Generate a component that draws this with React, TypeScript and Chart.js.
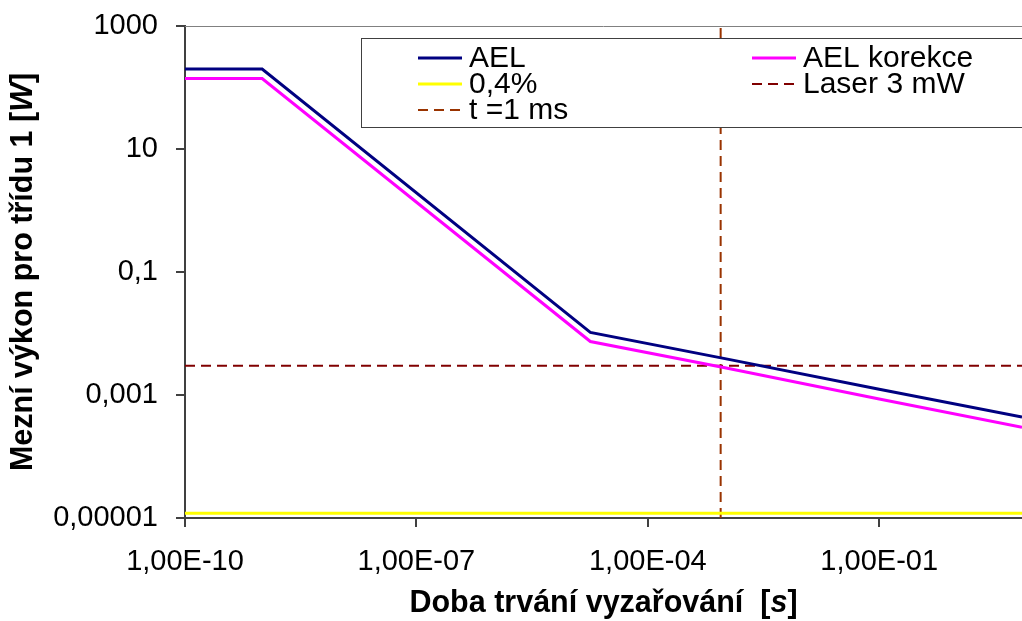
import React, { useEffect, useRef } from 'react';
import { Chart, registerables } from 'chart.js';

Chart.register(...registerables);

// ---- data ----
const timeAEL = [1e-10, 1e-9, 1.8e-5, 1e-3, 1e-1, 7.1];
const valuesAEL = [200, 200, 0.0104, 3.9e-3, 1.24e-3, 4.4e-4];
const timeKorekce = [1e-10, 1e-9, 1.8e-5, 1e-3, 1e-1, 7.1];
const valuesKorekce = [140, 140, 7.4e-3, 2.78e-3, 8.6e-4, 3.0e-4];
const timeLimit04 = [1e-10, 7.1];
const valuesLimit04 = [1.2e-5, 1.2e-5];
const timeLaser = [1e-10, 7.1];
const valuesLaser = [0.003, 0.003];
const timePulse = [8.8e-4, 8.8e-4];
const valuesPulse = [1e-5, 1000];
const seriesLabels = ['AEL', 'AEL korekce', '0,4%', 'Laser 3 mW', 't =1 ms'];
const xTickValues = [1e-10, 1e-7, 1e-4, 1e-1];
const xTickLabels = ['1,00E-10', '1,00E-07', '1,00E-04', '1,00E-01'];
const yTickValues = [1e-5, 1e-3, 1e-1, 10, 1000];
const yTickLabels = ['0,00001', '0,001', '0,1', '10', '1000'];
const xRange = [1e-10, 7.1];
const yRange = [1e-5, 1000];
const xTitleParts = ['Doba trvání vyzařování  [', 's', ']'];
const yTitleParts = ['Mezní výkon pro třídu 1 [', 'W', ']'];

const FONT = '"Liberation Sans", Arial, sans-serif';

function pts(xs: number[], ys: number[]) {
  return xs.map((x, i) => ({ x, y: ys[i] }));
}

function drawRich(ctx: CanvasRenderingContext2D, parts: string[], x: number, y: number) {
  const fonts = [`bold 30.5px ${FONT}`, `italic bold 30.5px ${FONT}`, `bold 30.5px ${FONT}`];
  const widths = parts.map((p, i) => {
    ctx.font = fonts[i];
    return ctx.measureText(p).width;
  });
  const total = widths.reduce((a, b) => a + b, 0);
  let cur = x - total / 2;
  ctx.textAlign = 'left';
  ctx.textBaseline = 'middle';
  ctx.fillStyle = '#000';
  parts.forEach((p, i) => {
    ctx.font = fonts[i];
    ctx.fillText(p, cur, y);
    cur += widths[i];
  });
}

const decorPlugin = {
  id: 'decor',
  afterDraw(chart: any) {
    const ctx: CanvasRenderingContext2D = chart.ctx;
    const area = chart.chartArea;
    ctx.save();
    // top border of plot area
    ctx.strokeStyle = '#808080';
    ctx.lineWidth = 1;
    ctx.beginPath();
    ctx.moveTo(area.left, area.top + 0.5);
    ctx.lineTo(area.right, area.top + 0.5);
    ctx.stroke();

    // legend box
    const bx = 361, by = 38, bw = 700, bh = 89;
    ctx.fillStyle = '#fff';
    ctx.fillRect(bx, by, bw, bh);
    ctx.strokeStyle = '#404040';
    ctx.lineWidth = 1;
    ctx.strokeRect(bx + 0.5, by + 0.5, bw, bh);

    const cols = [
      { lx: 418, tx: 469 },
      { lx: 752, tx: 803 },
    ];
    const rows = [58, 84, 110];
    const ds = chart.data.datasets;
    ds.forEach((d: any, i: number) => {
      const c = cols[i % 2];
      const r = rows[Math.floor(i / 2)];
      ctx.strokeStyle = d.borderColor;
      ctx.lineWidth = d.borderWidth;
      ctx.setLineDash(d.borderDash || []);
      ctx.beginPath();
      ctx.moveTo(c.lx, r);
      ctx.lineTo(c.lx + 44, r);
      ctx.stroke();
      ctx.setLineDash([]);
      ctx.fillStyle = '#000';
      ctx.font = `30px ${FONT}`;
      ctx.textAlign = 'left';
      ctx.textBaseline = 'middle';
      ctx.fillText(d.label, c.tx, r + 1);
    });

    // axis titles
    drawRich(ctx, xTitleParts, (area.left + area.right) / 2, 604);
    ctx.save();
    ctx.translate(24, (area.top + area.bottom) / 2);
    ctx.rotate(-Math.PI / 2);
    drawRich(ctx, yTitleParts, 0, 0);
    ctx.restore();
    ctx.restore();
  },
};

export default function App() {
  const ref = useRef<HTMLCanvasElement>(null);
  useEffect(() => {
    document.body.style.margin = '0';
    const canvas = ref.current!;
    const chart = new Chart(canvas, {
      type: 'line',
      data: {
        datasets: [
          { label: seriesLabels[0], data: pts(timeAEL, valuesAEL), borderColor: '#000080', borderWidth: 3, pointRadius: 0 },
          { label: seriesLabels[1], data: pts(timeKorekce, valuesKorekce), borderColor: '#FF00FF', borderWidth: 3, pointRadius: 0 },
          { label: seriesLabels[2], data: pts(timeLimit04, valuesLimit04), borderColor: '#FFFF00', borderWidth: 3, pointRadius: 0 },
          { label: seriesLabels[3], data: pts(timeLaser, valuesLaser), borderColor: '#800000', borderWidth: 2, borderDash: [10, 6], pointRadius: 0 },
          { label: seriesLabels[4], data: pts(timePulse, valuesPulse), borderColor: '#993300', borderWidth: 2, borderDash: [10, 6], pointRadius: 0 },
        ] as any,
      },
      options: {
        animation: false,
        responsive: false,
        devicePixelRatio: 1,
        layout: { padding: { top: 26, right: 0, left: 0, bottom: 0 } },
        plugins: { legend: { display: false }, tooltip: { enabled: false } },
        elements: { line: { tension: 0 } },
        scales: {
          x: {
            type: 'logarithmic',
            min: xRange[0],
            max: xRange[1],
            afterBuildTicks: (s: any) => {
              s.ticks = xTickValues.map((v) => ({ value: v }));
            },
            afterFit: (s: any) => {
              s.height = 103;
              s.paddingLeft = 0;
              s.paddingRight = 0;
            },
            ticks: {
              autoSkip: false,
              maxRotation: 0,
              minRotation: 0,
              padding: 18,
              color: '#000',
              font: { family: FONT, size: 29 },
              callback: (_v: any, i: number) => xTickLabels[i],
            },
            grid: { display: true, drawOnChartArea: false, drawTicks: true, tickLength: 9, color: '#404040', lineWidth: 2 },
            border: { display: true, color: '#404040', width: 2 },
          },
          y: {
            type: 'logarithmic',
            min: yRange[0],
            max: yRange[1],
            afterBuildTicks: (s: any) => {
              s.ticks = yTickValues.map((v) => ({ value: v }));
            },
            afterFit: (s: any) => {
              s.width = 185;
              s.paddingTop = 0;
              s.paddingBottom = 0;
            },
            ticks: {
              autoSkip: false,
              padding: 18,
              color: '#000',
              font: { family: FONT, size: 29 },
              callback: (_v: any, i: number) => yTickLabels[i],
            },
            grid: { display: true, drawOnChartArea: false, drawTicks: true, tickLength: 9, color: '#404040', lineWidth: 2 },
            border: { display: true, color: '#404040', width: 2 },
          },
        },
      } as any,
      plugins: [decorPlugin],
    });
    return () => chart.destroy();
  }, []);
  return (
    <div style={{ width: 1022, height: 621, background: '#fff' }}>
      <canvas ref={ref} width={1022} height={621} style={{ display: 'block' }} />
    </div>
  );
}
